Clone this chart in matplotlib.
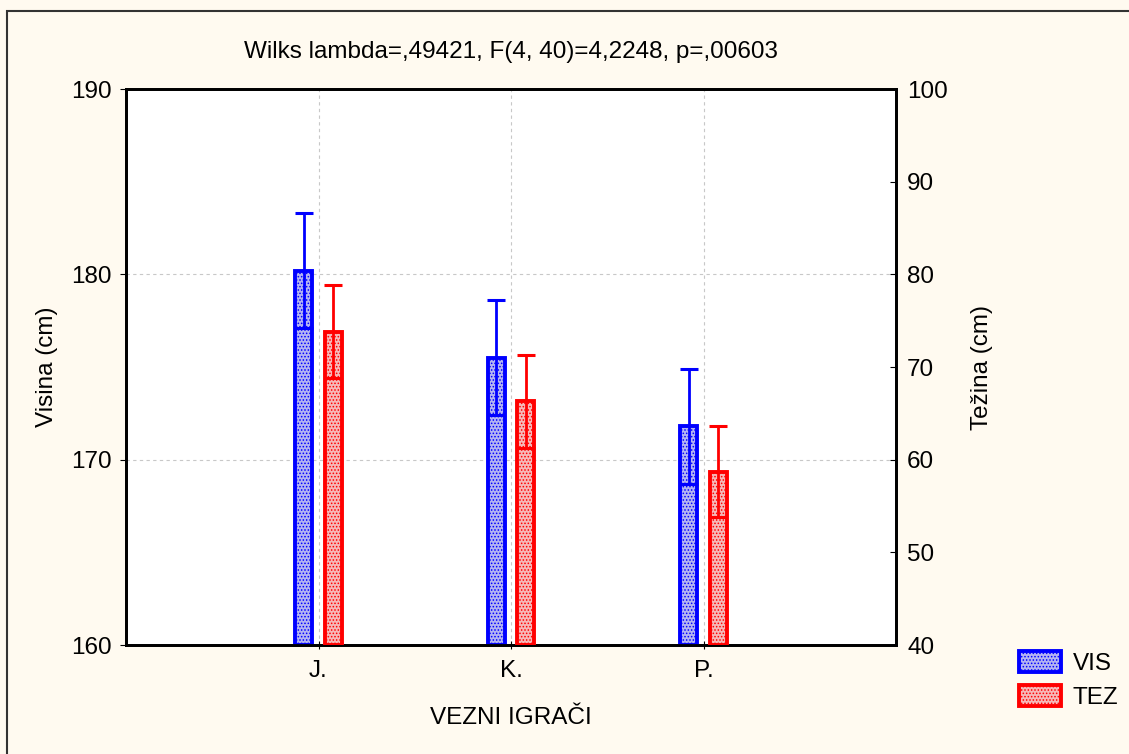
import numpy as np
import matplotlib.pyplot as plt
from matplotlib.patches import Rectangle, Patch

plt.rcParams['font.family'] = ['Liberation Sans', 'DejaVu Sans']
plt.rcParams['hatch.linewidth'] = 0.7

# data
groups = ['J.', 'K.', 'P.']
vis_mean = [180.2, 175.5, 171.8]
vis_err = [3.1, 3.1, 3.1]
tez_mean = [73.8, 66.3, 58.7]
tez_err = [5.0, 5.0, 4.9]

bg = '#fffaf0'
fs = 17.5
fig = plt.figure(figsize=(11.29, 7.54), dpi=100, facecolor=bg)
ax = fig.add_axes([126/1129, 109/754, 770/1129, 556/754])
ax2 = ax.twinx()

x = np.arange(1, len(groups) + 1)
w = 0.088
off = 0.077

ax.bar(x - off, np.array(vis_mean) - 160, bottom=160, width=w,
       facecolor='#b4b4f2', edgecolor='blue', linewidth=2.8, hatch='.....', zorder=3)
ax.errorbar(x - off, vis_mean, yerr=vis_err, fmt='none', ecolor='blue',
            elinewidth=2, capsize=6.5, capthick=2.2, zorder=4)

ax2.bar(x + off, np.array(tez_mean) - 40, bottom=40, width=w,
        facecolor='#f6b8b8', edgecolor='red', linewidth=2.8, hatch='.....', zorder=3)
ax2.errorbar(x + off, tez_mean, yerr=tez_err, fmt='none', ecolor='red',
             elinewidth=2, capsize=6.5, capthick=2.2, zorder=4)

ax.set_xlim(0, 4)
ax.set_ylim(160, 190)
ax.set_yticks([160, 170, 180, 190])
ax2.set_ylim(40, 100)
ax2.set_yticks(range(40, 101, 10))
ax.set_xticks(x)
ax.set_xticklabels(groups)

ax.grid(True, color='#c8c8c8', linestyle=(0, (3, 3)), linewidth=0.8, zorder=0)
ax.set_axisbelow(True)
ax.set_facecolor('white')

for a in (ax, ax2):
    for s in a.spines.values():
        s.set_linewidth(2)
ax.tick_params(axis='y', direction='out', length=4, labelsize=fs, pad=6)
ax.tick_params(axis='x', direction='inout', length=6, labelsize=fs, pad=8)
ax2.tick_params(axis='y', direction='in', length=4, labelsize=fs, pad=8)

ax.set_ylabel('Visina (cm)', fontsize=fs, labelpad=10)
ax2.set_ylabel('Težina (cm)', fontsize=fs, labelpad=17)
ax.set_xlabel('VEZNI IGRAČI', fontsize=fs, labelpad=18)
ax.set_title('Wilks lambda=,49421, F(4, 40)=4,2248, p=,00603', fontsize=fs, pad=22)

handles = [Patch(facecolor='#b4b4f2', edgecolor='blue', linewidth=2.8, hatch='.....'),
           Patch(facecolor='#f6b8b8', edgecolor='red', linewidth=2.8, hatch='.....')]
fig.legend(handles, ['VIS', 'TEZ'], loc='upper left', bbox_to_anchor=(1000/1129, 1 - 632/754),
           frameon=False, fontsize=fs, handlelength=1.7, handleheight=0.95,
           handletextpad=0.5, labelspacing=0.4, borderpad=0.3)

fig.patches.append(Rectangle((7/1129, -0.01), 1.2, 1 - 11/754 + 0.01, transform=fig.transFigure,
                             fill=False, edgecolor='#333333', linewidth=1.5))

fig.savefig('out.png', dpi=100, facecolor=bg)
